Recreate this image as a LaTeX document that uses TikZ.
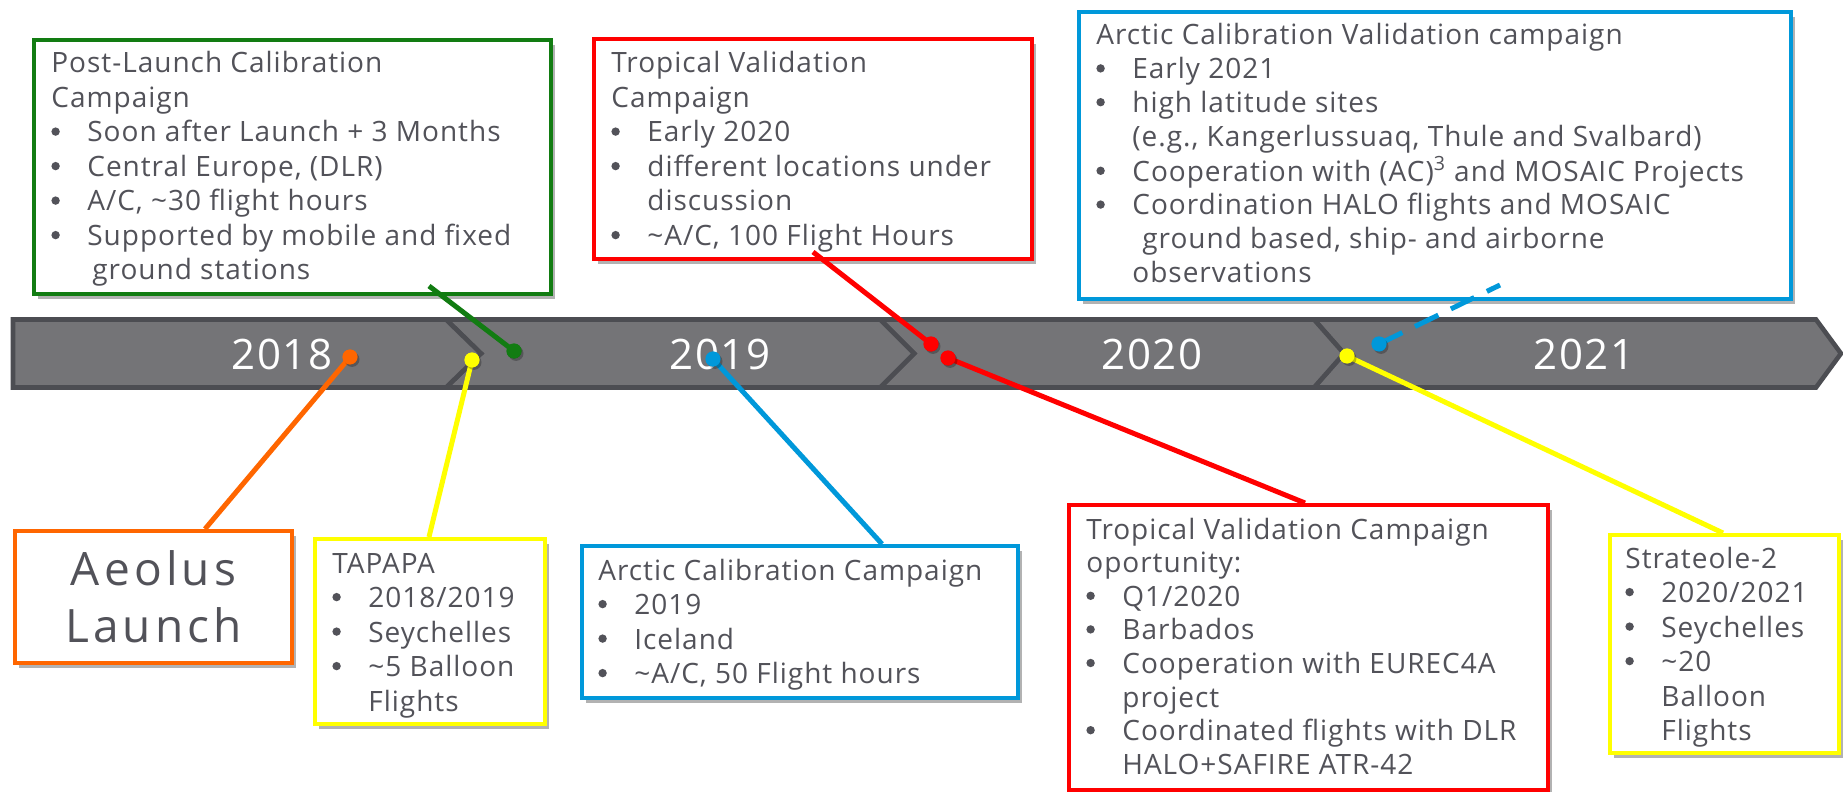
\documentclass[tikz,border=0pt]{standalone}
\usepackage{fontspec}
\setmainfont{Open Sans}[LetterSpace=3.5]
\usetikzlibrary{shadows}

\definecolor{txtgray}{RGB}{82,82,89}
\definecolor{bandfill}{RGB}{116,116,119}
\definecolor{bandline}{RGB}{76,77,82}
\definecolor{cgreen}{RGB}{18,124,18}
\definecolor{cred}{RGB}{255,0,0}
\definecolor{cblue}{RGB}{0,152,218}
\definecolor{corange}{RGB}{255,102,0}
\definecolor{cyellow}{RGB}{255,255,0}

% one line per table row: \bu starts a bullet line, \cn continues it
\newcommand\bu{\makebox[18pt][l]{\tikz[baseline=0pt]\fill[txtgray] (2.1pt,5.2pt) circle[radius=2.1pt];}}
\newcommand\cn{\hspace*{18pt}}
\newenvironment{blist}{\begin{tabular}[t]{@{}l@{}}}{\end{tabular}}

\begin{document}
\begin{tikzpicture}[x=0.5pt,y=-0.5pt,
  box/.style={draw=#1, line width=2pt, fill=white, rectangle, inner sep=0pt,
    anchor=north west,
    drop shadow={shadow xshift=2pt, shadow yshift=-2.5pt, opacity=0.3, fill=black}},
  body/.style={anchor=base west, inner sep=0pt, text=txtgray,
    font=\fontsize{14}{17.25}\selectfont},
  seg/.style={fill=bandfill, draw=bandline, line width=2.3pt, line join=miter},
  year/.style={text=white, font=\fontsize{21}{21}\selectfont, inner sep=0pt},
  dot/.style={circle, fill=#1, minimum size=7.5pt, inner sep=0pt},
  link/.style={draw=#1, line width=2.5pt}
]
\useasboundingbox (0,0) rectangle (1843,792);

% ---- campaign boxes ----
\node[box=cgreen, minimum width=258.5pt, minimum height=127pt] (postbox) at (32,38) {};
\node[box=cred, minimum width=219pt, minimum height=110pt] (tropbox) at (592,37) {};
\node[box=cblue, minimum width=356pt, minimum height=143.5pt] (arcvbox) at (1077,10) {};
\node[box=corange, minimum width=138.5pt, minimum height=66pt] (launch) at (13,529) {};
\node[box=cyellow, minimum width=115pt, minimum height=92.5pt] (tapbox) at (313,537) {};
\node[box=cblue, minimum width=218pt, minimum height=76pt] (arcbox) at (580,544) {};
\node[box=cred, minimum width=239.5pt, minimum height=142.5pt] (tropobox) at (1067,503) {};
\node[box=cyellow, minimum width=114.5pt, minimum height=109pt] (strbox) at (1608,533) {};

% ---- box texts ----
\node[body] (posttxt) at (51,73) {\begin{blist}
Post-Launch Calibration\\
Campaign\\
\bu Soon after Launch + 3 Months\\
\bu Central Europe, (DLR)\\
\bu A/C, \textasciitilde30 flight hours\\
\bu Supported by mobile and fixed\\
\cn\hspace*{2.5pt}ground stations
\end{blist}};

\node[body] (troptxt) at (611,73) {\begin{blist}
Tropical Validation\\
Campaign\\
\bu Early 2020\\
\bu different locations under\\
\cn discussion\\
\bu \textasciitilde A/C, 100 Flight Hours
\end{blist}};

\node[body, font=\fontsize{14}{16.9}\selectfont] (arcvtxt) at (1096,45) {\begin{blist}
Arctic Calibration Validation campaign\\
\bu Early 2021\\
\bu high latitude sites\\
\cn (e.g., Kangerlussuaq, Thule and Svalbard)\\
\bu Cooperation with (AC)\textsuperscript{3} and MOSAIC Projects\\
\bu Coordination HALO flights and MOSAIC\\
\cn\hspace*{5pt}ground based, ship- and airborne\\
\cn observations
\end{blist}};

\node[text=txtgray, font=\fontsize{23}{28.5}\selectfont\addfontfeature{LetterSpace=9},
  align=center, inner sep=0pt] (launchtxt) at (launch.center) {Aeolus\\Launch};

\node[body] (taptxt) at (332,573) {\begin{blist}
TAPAPA\\
\bu 2018/2019\\
\bu Seychelles\\
\bu \textasciitilde5 Balloon\\
\cn Flights
\end{blist}};

\node[body] (arctxt) at (598,580) {\begin{blist}
Arctic Calibration Campaign\\
\bu 2019\\
\bu Iceland\\
\bu \textasciitilde A/C, 50 Flight hours
\end{blist}};

\node[body, font=\fontsize{14}{16.8}\selectfont] (tropotxt) at (1086,539) {\begin{blist}
Tropical Validation Campaign\\
oportunity:\\
\bu Q1/2020\\
\bu Barbados\\
\bu Cooperation with EUREC4A\\
\cn project\\
\bu Coordinated flights with DLR\\
\cn HALO+SAFIRE ATR-42
\end{blist}};

\node[body] (strtxt) at (1625,568) {\begin{blist}
Strateole-2\\
\bu 2020/2021\\
\bu Seychelles\\
\bu \textasciitilde20\\
\cn Balloon\\
\cn Flights
\end{blist}};

% ---- timeline band, drawn right to left so each tip lies on top ----
\draw[seg] (1314,319.5) -- (1816,319.5) -- (1841,353.5) -- (1816,387.5) -- (1314,387.5) -- (1344,353.5) -- cycle;
\draw[seg] (880,319.5) -- (1314,319.5) -- (1344,353.5) -- (1314,387.5) -- (880,387.5) -- (914,353.5) -- cycle;
\draw[seg] (446,319.5) -- (880,319.5) -- (914,353.5) -- (880,387.5) -- (446,387.5) -- (481,353.5) -- cycle;
\draw[seg] (13,319.5) -- (446,319.5) -- (481,353.5) -- (446,387.5) -- (13,387.5) -- cycle;

\node[year] (y2018) at (282,354) {2018};
\node[year] (y2019) at (720,354) {2019};
\node[year] (y2020) at (1152,354) {2020};
\node[year] (y2021) at (1584,354) {2021};

% ---- markers on the band ----
\node[dot=corange] (dlaunch) at (350,357) {};
\node[dot=cyellow] (dtap) at (472,360) {};
\node[dot=cgreen] (dpost) at (514,351) {};
\node[dot=cblue] (darc) at (713,359) {};
\node[dot=cred] (dtrop) at (931,344) {};
\node[dot=cred] (dtropo) at (948,358) {};
\node[dot=cyellow] (dstr) at (1347,356) {};
\node[dot=cblue] (darcv) at (1379,344) {};

% ---- connector ends at the boxes ----
\coordinate (epost) at (429,286);
\coordinate (etrop) at (813,252);
\coordinate (earcv) at (1500,285);
\coordinate (elaunch) at (205,529);
\coordinate (etap) at (429,537);
\coordinate (earc) at (882,544);
\coordinate (etropo) at (1305,503);
\coordinate (estr) at (1723,533);

% ---- connectors ----
\draw[link=cgreen] (epost) -- (dpost.center);
\draw[link=cred] (etrop) -- (dtrop.center);
\draw[link=cblue, dash pattern=on 13pt off 7pt] (darcv.center) -- (earcv);
\draw[link=corange] (dlaunch.center) -- (elaunch);
\draw[link=cyellow] (dtap.center) -- (etap);
\draw[link=cblue] (darc.center) -- (earc);
\draw[link=cred] (dtropo.center) -- (etropo);
\draw[link=cyellow] (dstr.center) -- (estr);

% dots redrawn above the lines, with a faint shadow
\foreach \d/\c in {dlaunch/corange, dtap/cyellow, dpost/cgreen, darc/cblue, dtrop/cred, dtropo/cred, dstr/cyellow, darcv/cblue}{
  \fill[black, opacity=0.25] ([shift={(1pt,-1.2pt)}]\d) circle (3.75pt);
  \fill[\c] (\d) circle (3.75pt);
}
\end{tikzpicture}
\end{document}
